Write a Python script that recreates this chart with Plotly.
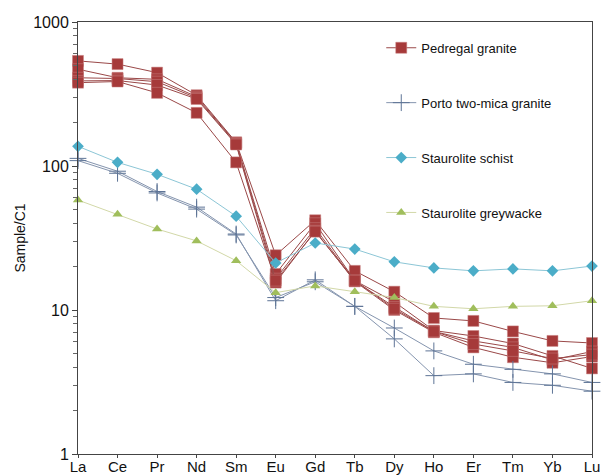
import plotly.graph_objects as go

elements = ["La", "Ce", "Pr", "Nd", "Sm", "Eu", "Gd", "Tb", "Dy", "Ho", "Er", "Tm", "Yb", "Lu"]

pedregal_1 = [537, 510, 445, 310, 146, 24.0, 42.0, 18.7, 13.4, 8.8, 8.4, 7.1, 6.1, 5.9]
pedregal_2 = [470, 410, 400, 303, 145, 17.8, 40.0, 16.0, 11.4, 7.2, 6.6, 5.85, 4.8, 3.93]
pedregal_3 = [410, 405, 385, 297, 143, 16.5, 37.0, 15.9, 10.5, 7.1, 6.1, 5.5, 4.5, 5.15]
pedregal_4 = [390, 392, 365, 292, 141, 15.5, 35.5, 15.8, 10.0, 7.0, 5.5, 4.7, 4.3, 4.75]
pedregal_5 = [379, 386, 322, 234, 106, 16.0, 35.0, 16.0, 10.2, 7.1, 5.8, 5.2, 4.6, 4.9]

porto_1 = [113, 92, 66.5, 51.8, 33.7, 11.6, 16.2, 10.6, 7.5, 5.2, 4.2, 3.87, 3.6, 3.14]
porto_2 = [109, 89, 65.0, 50.2, 33.2, 12.2, 15.7, 10.6, 6.3, 3.5, 3.6, 3.14, 3.0, 2.73]

schist = [137, 106, 87.6, 69, 44.8, 21.2, 29.2, 26.5, 21.6, 19.6, 18.7, 19.3, 18.7, 20.2]
greywacke = [58, 46.3, 36.5, 30.2, 22, 13.2, 14.7, 13.4, 12.2, 10.6, 10.2, 10.6, 10.7, 11.6]

y_ticks = [1, 10, 100, 1000]
y_minor = [m * d for d in (1, 10, 100) for m in range(2, 10)]

fig = go.Figure()

for i, ys in enumerate([pedregal_1, pedregal_2, pedregal_3, pedregal_4, pedregal_5]):
    fig.add_trace(go.Scatter(
        x=elements, y=ys, mode="lines+markers", name="Pedregal granite",
        legendgroup="ped", showlegend=(i == 0), cliponaxis=False,
        line=dict(color="#9A4848", width=1),
        marker=dict(symbol="square", size=11, color="#A63A3A",
                    line=dict(color="#C98080", width=0.5)),
    ))

for i, ys in enumerate([porto_1, porto_2]):
    fig.add_trace(go.Scatter(
        x=elements, y=ys, mode="lines+markers", name="Porto two-mica granite",
        legendgroup="porto", showlegend=(i == 0), cliponaxis=False,
        line=dict(color="#8494AE", width=1),
        marker=dict(symbol="cross-thin", size=12, color="#5E7496",
                    line=dict(color="#5E7496", width=1)),
    ))

fig.add_trace(go.Scatter(
    x=elements, y=schist, mode="lines+markers", name="Staurolite schist",
    legendgroup="schist", cliponaxis=False,
    line=dict(color="#8CC6D6", width=1),
    marker=dict(symbol="diamond", size=9, color="#4BADC8"),
))

fig.add_trace(go.Scatter(
    x=elements, y=greywacke, mode="lines+markers", name="Staurolite greywacke",
    legendgroup="grey", cliponaxis=False,
    line=dict(color="#D2D8A8", width=1),
    marker=dict(symbol="triangle-up", size=9, color="#A0BE5C"),
))

fig.update_layout(
    width=601, height=475,
    margin=dict(l=78, r=9, t=22, b=21),
    paper_bgcolor="white", plot_bgcolor="white",
    font=dict(family="Arial, Liberation Sans, sans-serif", color="#111111"),
    showlegend=True,
    legend=dict(
        x=0.59, y=0.975, xanchor="left", yanchor="top",
        traceorder="grouped", tracegroupgap=35,
        font=dict(size=13), itemwidth=30,
        bgcolor="rgba(0,0,0,0)",
    ),
)

fig.update_xaxes(
    type="category", range=[0, 13], automargin=False,
    showline=True, linecolor="#444444", linewidth=1, mirror=True,
    showgrid=False, zeroline=False,
    ticks="outside", ticklen=3, tickcolor="#444444",
    tickfont=dict(size=15), ticklabelstandoff=-4,
)

fig.update_yaxes(
    type="log", range=[0, 3], automargin=False,
    tickvals=y_ticks, ticktext=[str(v) for v in y_ticks],
    showline=True, linecolor="#444444", linewidth=1, mirror=True,
    showgrid=False, zeroline=False,
    ticks="outside", ticklen=5, tickcolor="#444444",
    tickfont=dict(size=16),
    minor=dict(tickvals=y_minor, ticks="outside", ticklen=4,
               tickcolor="#666666", showgrid=False),
    title=dict(text="Sample/C1", font=dict(size=14), standoff=4),
)

fig.write_html("out.html")
